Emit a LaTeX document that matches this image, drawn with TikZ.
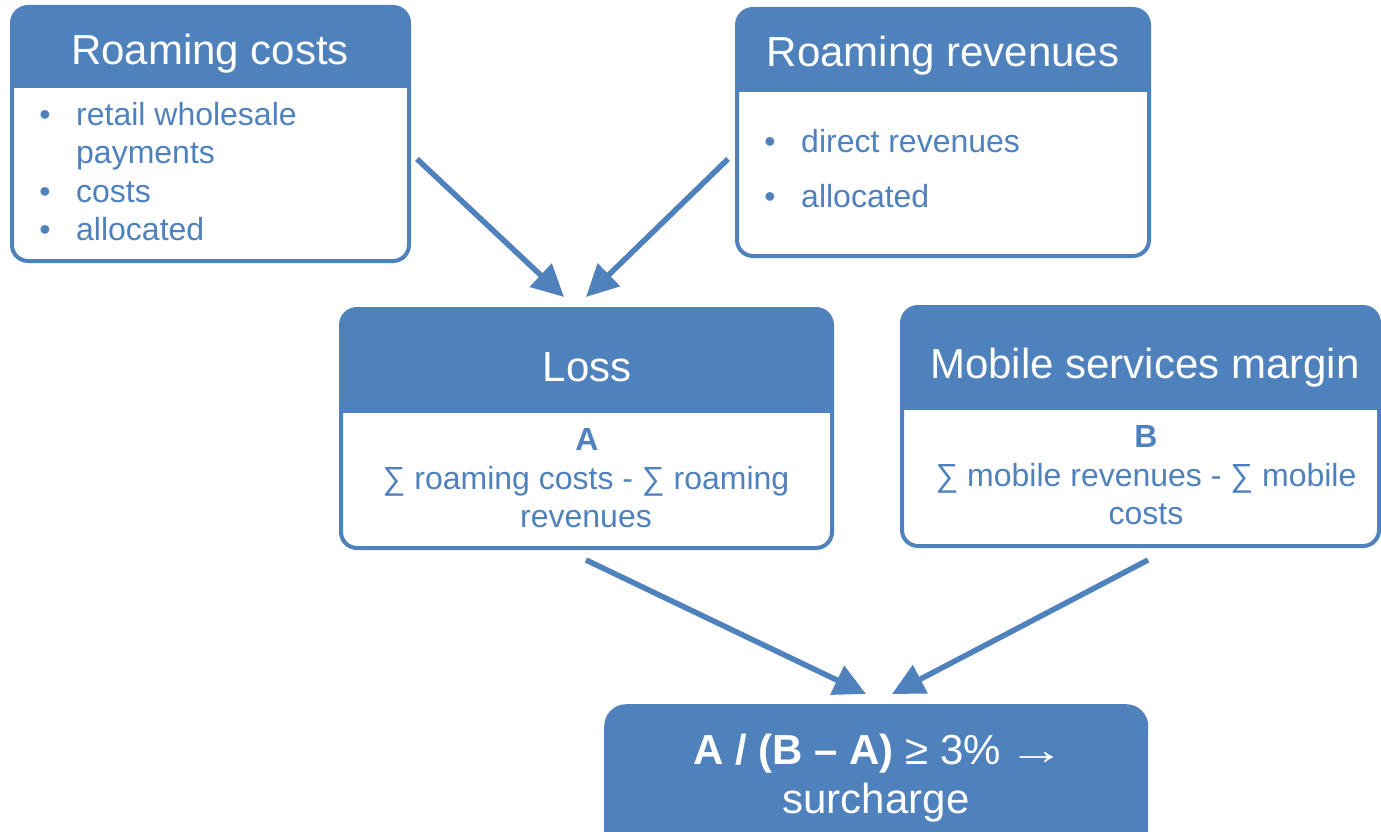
\documentclass[tikz,border=0pt]{standalone}
\usepackage{fontspec}
\setmainfont{Liberation Sans}
\usetikzlibrary{arrows.meta}
\definecolor{ob}{HTML}{4F81BD}
\tikzset{
  frame/.style={draw=ob, line width=4pt, rounded corners=16pt, inner sep=0pt, outer sep=0pt, anchor=north west},
  htext/.style={text=white, font=\fontsize{42}{48}\selectfont, anchor=base, inner sep=0pt},
  btext/.style={text=ob, font=\fontsize{32}{38}\selectfont, anchor=base, inner sep=0pt},
  ltext/.style={text=ob, font=\fontsize{32}{38}\selectfont, anchor=base west, inner sep=0pt},
  conn/.style={draw=ob, line width=5.5pt, -{Triangle[length=32pt,width=31pt]}},
  result/.style={fill=ob, rounded corners=22pt, inner sep=0pt, anchor=north west},
}
\begin{document}
\begin{tikzpicture}[x=1pt,y=-1pt]
\useasboundingbox (0,0) rectangle (1381,832);
% header fills
\begin{scope}
  \clip[rounded corners=16pt] (12,7) rectangle (409,261);
  \fill[ob] (0,0) rectangle (420,88);
\end{scope}
\begin{scope}
  \clip[rounded corners=16pt] (737,9) rectangle (1149,256);
  \fill[ob] (730,0) rectangle (1160,92);
\end{scope}
\begin{scope}
  \clip[rounded corners=16pt] (341,309) rectangle (832,548);
  \fill[ob] (330,300) rectangle (840,413);
\end{scope}
\begin{scope}
  \clip[rounded corners=16pt] (902,307) rectangle (1379,546);
  \fill[ob] (890,300) rectangle (1390,410);
\end{scope}
% frames
\node[frame, minimum width=397pt, minimum height=254pt] (rc) at (12,7) {};
\node[frame, minimum width=412pt, minimum height=247pt] (rr) at (737,9) {};
\node[frame, minimum width=491pt, minimum height=239pt] (loss) at (341,309) {};
\node[frame, minimum width=477pt, minimum height=239pt] (msm) at (902,307) {};
\node[result, minimum width=544pt, minimum height=160pt] (res) at (604,704) {};
% headers
\node[htext] (rch) at (210,65) {Roaming costs};
\node[htext] (rrh) at (943,67) {Roaming revenues};
\node[htext] (lossh) at (587,381) {Loss};
\node[htext] (msmh) at (1145,378) {Mobile services margin};
% roaming costs body
\node[btext] (rcb1) at (45,125) {•};
\node[ltext] (rct1) at (76,125) {retail wholesale};
\node[ltext] (rct2) at (76,163) {payments};
\node[btext] (rcb3) at (45,202) {•};
\node[ltext] (rct3) at (76,202) {costs};
\node[btext] (rcb4) at (45,240) {•};
\node[ltext] (rct4) at (76,240) {allocated};
% roaming revenues body
\node[btext] (rrb1) at (770,153) {•};
\node[ltext] (rrt1) at (801,153) {direct revenues};
\node[btext] (rrb2) at (770,207) {•};
\node[ltext] (rrt2) at (801,207) {allocated};
% loss body
\node[btext, font=\fontsize{32}{38}\selectfont\bfseries] (la) at (587,450) {A};
\node[btext] (l1) at (586,489) {∑ roaming costs - ∑ roaming};
\node[btext] (l2) at (586,527) {revenues};
% msm body
\node[btext, font=\fontsize{32}{38}\selectfont\bfseries] (mb) at (1146,447) {B};
\node[btext] (m1) at (1146,486) {∑ mobile revenues - ∑ mobile};
\node[btext] (m2) at (1146,524) {costs};
% result text
\node[htext] (r1) at (879,764) {\textbf{A / (B – A)} ≥ 3\%\,\scalebox{1.35}[1]{→}};
\node[htext] (r2) at (876,813) {surcharge};
% connectors
\coordinate (c1s) at (417,159);
\coordinate (c1e) at (564,297);
\coordinate (c2s) at (728,159);
\coordinate (c2e) at (586,297);
\coordinate (c3s) at (586,560);
\coordinate (c3e) at (866,694);
\coordinate (c4s) at (1148,560);
\coordinate (c4e) at (892,694);
\draw[conn] (c1s) -- (c1e);
\draw[conn] (c2s) -- (c2e);
\draw[conn] (c3s) -- (c3e);
\draw[conn] (c4s) -- (c4e);
\end{tikzpicture}
\end{document}
